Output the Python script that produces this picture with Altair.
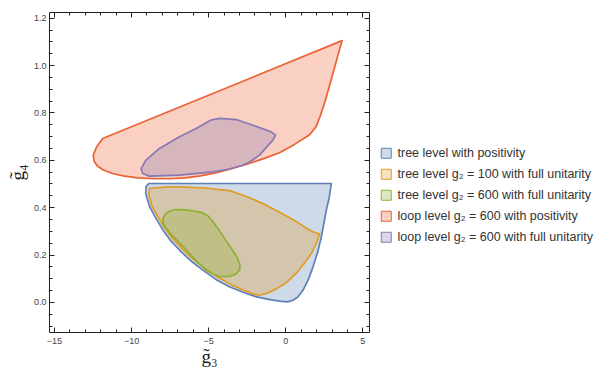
import altair as alt
import pandas as pd

# ---- data ----
series_names = [
    "tree level with positivity",
    "tree level g\u2082 = 100 with full unitarity",
    "tree level g\u2082 = 600 with full unitarity",
    "loop level g\u2082 = 600 with positivity",
    "loop level g\u2082 = 600 with full unitarity",
]
series_colors = ["#5E81B5", "#E19C24", "#8FB032", "#EB6235", "#8778B3"]

blue_x = [-8.85, 2.99, 2.85, 2.66, 2.50, 2.34, 2.10, 1.80, 1.50, 1.15, 0.80, 0.50, 0.15, -0.37, -1.00,
          -1.86, -2.70, -3.59, -4.50, -5.34, -6.15, -6.85, -7.45, -7.93, -8.40, -8.79, -9.05, -9.02]
blue_y = [0.500, 0.500, 0.440, 0.387, 0.330, 0.275, 0.210, 0.148, 0.095, 0.049, 0.020, 0.007, 0.000, 0.003, 0.010,
          0.021, 0.040, 0.063, 0.095, 0.134, 0.175, 0.218, 0.260, 0.303, 0.355, 0.401, 0.458, 0.488]

orange_x = [-8.80, -7.50, -6.86, -5.20, -3.61, -2.50, -1.45, -0.40, 0.71, 1.40, 1.90, 2.23, 2.00, 1.69, 1.20,
            0.71, 0.05, -0.58, -1.20, -1.67, -2.00, -2.55, -3.45, -4.36, -5.20, -6.02, -6.72, -7.32, -7.80,
            -8.26, -8.65, -8.85]
orange_y = [0.480, 0.486, 0.486, 0.481, 0.470, 0.445, 0.415, 0.380, 0.340, 0.310, 0.293, 0.287, 0.245, 0.204, 0.160,
            0.120, 0.080, 0.055, 0.036, 0.028, 0.032, 0.045, 0.071, 0.103, 0.142, 0.183, 0.226, 0.268, 0.310,
            0.360, 0.405, 0.455]

green_x = [-7.94, -7.75, -7.51, -7.10, -6.75, -6.00, -5.45, -5.02, -4.65, -4.26, -3.70, -3.18, -2.95, -2.95,
           -3.20, -3.61, -4.26, -4.70, -5.13, -5.70, -6.21, -6.80, -7.29, -7.65, -7.90]
green_y = [0.352, 0.372, 0.383, 0.390, 0.390, 0.385, 0.378, 0.364, 0.335, 0.300, 0.245, 0.195, 0.160, 0.135,
           0.118, 0.108, 0.107, 0.118, 0.134, 0.168, 0.204, 0.245, 0.278, 0.305, 0.330]

red_x = [3.68, -11.84, -12.23, -12.45, -12.40, -12.20, -11.80, -11.20, -10.50, -9.60, -8.50, -7.50, -6.50,
         -5.50, -4.50, -3.50, -2.53, -1.40, -0.37, 0.60, 1.58, 2.00, 2.30, 2.60, 2.90, 3.20, 3.45, 3.65]
red_y = [1.103, 0.690, 0.655, 0.620, 0.595, 0.575, 0.557, 0.542, 0.532, 0.524, 0.520, 0.520, 0.524,
         0.532, 0.545, 0.562, 0.580, 0.605, 0.630, 0.665, 0.706, 0.740, 0.790, 0.850, 0.920, 0.990, 1.050, 1.095]

purple_x = [-4.26, -3.18, -2.10, -0.91, -0.63, -0.80, -1.67, -2.20, -2.75, -3.70, -4.70, -6.86, -8.81, -9.24,
            -9.35, -9.03, -8.16, -6.86, -5.78, -4.81]
purple_y = [0.775, 0.770, 0.746, 0.718, 0.704, 0.683, 0.620, 0.595, 0.577, 0.560, 0.549, 0.535, 0.531, 0.542,
            0.563, 0.599, 0.648, 0.697, 0.732, 0.768]

x_major = [-15, -10, -5, 0, 5]
x_minor = list(range(-15, 6))
y_major = [0.0, 0.2, 0.4, 0.6, 0.8, 1.0, 1.2]
y_minor = [round(-0.1 + 0.05 * k, 2) for k in range(27)]

x_domain = [-15.32, 5.43]
y_domain = [-0.127, 1.224]

# ---- table ----
shapes = [(blue_x, blue_y), (orange_x, orange_y), (green_x, green_y),
          (red_x, red_y), (purple_x, purple_y)]
rows = []
for name, (xs, ys) in zip(series_names, shapes):
    for i, (xv, yv) in enumerate(zip(xs, ys)):
        rows.append({"series": name, "i": i, "x": xv, "y": yv})
df = pd.DataFrame(rows)

xscale = alt.Scale(domain=x_domain, nice=False, zero=False)
yscale = alt.Scale(domain=y_domain, nice=False, zero=False)
cscale = alt.Scale(domain=series_names, range=series_colors)

TICK = "#222222"
LABEL = "#444444"

legend = alt.Legend(
    title=None, orient="none", legendX=331, legendY=135,
    symbolType="square", symbolSize=100, symbolStrokeWidth=1,
    labelFont="Liberation Sans", labelFontSize=12.5, labelColor="#333333",
    labelLimit=400, rowPadding=6, labelOffset=5,
)

x_main_axis = alt.Axis(
    orient="bottom", values=x_major, format="d", offset=-5, tickSize=5, tickColor=TICK, tickWidth=1,
    domain=False, grid=False, labelPadding=4, labelFontSize=9, labelColor=LABEL,
    labelFont="Liberation Sans", labelFlush=False, labelOverlap=False,
    title="g\u0303\u2083", titleFont="Liberation Serif", titleFontSize=19, titleFontWeight="normal",
    titleColor="#222222", titlePadding=2,
)
y_main_axis = alt.Axis(
    orient="left", values=y_major, format=".1f", offset=-5, tickSize=5, tickColor=TICK, tickWidth=1,
    domain=False, grid=False, labelPadding=3, labelFontSize=9, labelColor=LABEL,
    labelFont="Liberation Sans", labelFlush=False, labelOverlap=False,
    title="g\u0303\u2084", titleFont="Liberation Serif", titleFontSize=19, titleFontWeight="normal",
    titleColor="#222222", titlePadding=6,
)


def tick_axis(orient, values, size):
    return alt.Axis(orient=orient, values=values, offset=-size, tickSize=size, tickColor=TICK,
                    tickWidth=1, domain=False, grid=False, labels=False, title=None)


layers = []
for k, name in enumerate(series_names):
    first = k == 0
    layers.append(
        alt.Chart(df)
        .transform_filter(alt.datum.series == name)
        .mark_line(interpolate="linear-closed", filled=True, strokeWidth=1.7, strokeJoin="round")
        .encode(
            x=alt.X("x:Q", scale=xscale, axis=x_main_axis if first else None),
            y=alt.Y("y:Q", scale=yscale, axis=y_main_axis if first else None),
            order=alt.Order("i:Q"),
            fill=alt.Fill("series:N", scale=cscale, legend=legend),
            stroke=alt.Stroke("series:N", scale=cscale, legend=legend),
        )
    )

axis_sets = [
    (tick_axis("bottom", x_minor, 3), tick_axis("left", y_minor, 3)),
    (tick_axis("top", x_major, 5), tick_axis("right", y_major, 5)),
    (tick_axis("top", x_minor, 3), tick_axis("right", y_minor, 3)),
]
for xa, ya in axis_sets:
    layers.append(
        alt.Chart(df)
        .mark_point(opacity=0)
        .encode(x=alt.X("x:Q", scale=xscale, axis=xa), y=alt.Y("y:Q", scale=yscale, axis=ya))
    )

chart = (
    alt.layer(*layers)
    .resolve_axis(x="independent", y="independent")
    .properties(
        width=320, height=320,
        autosize=alt.AutoSizeParams(type="none"),
        padding={"left": 41, "top": 4, "right": 232, "bottom": 36},
    )
    .configure_view(stroke="#222222", strokeWidth=1)
    .configure_line(fillOpacity=0.3)
)

chart.save("out.html", embed_options={"renderer": "svg", "actions": False})
